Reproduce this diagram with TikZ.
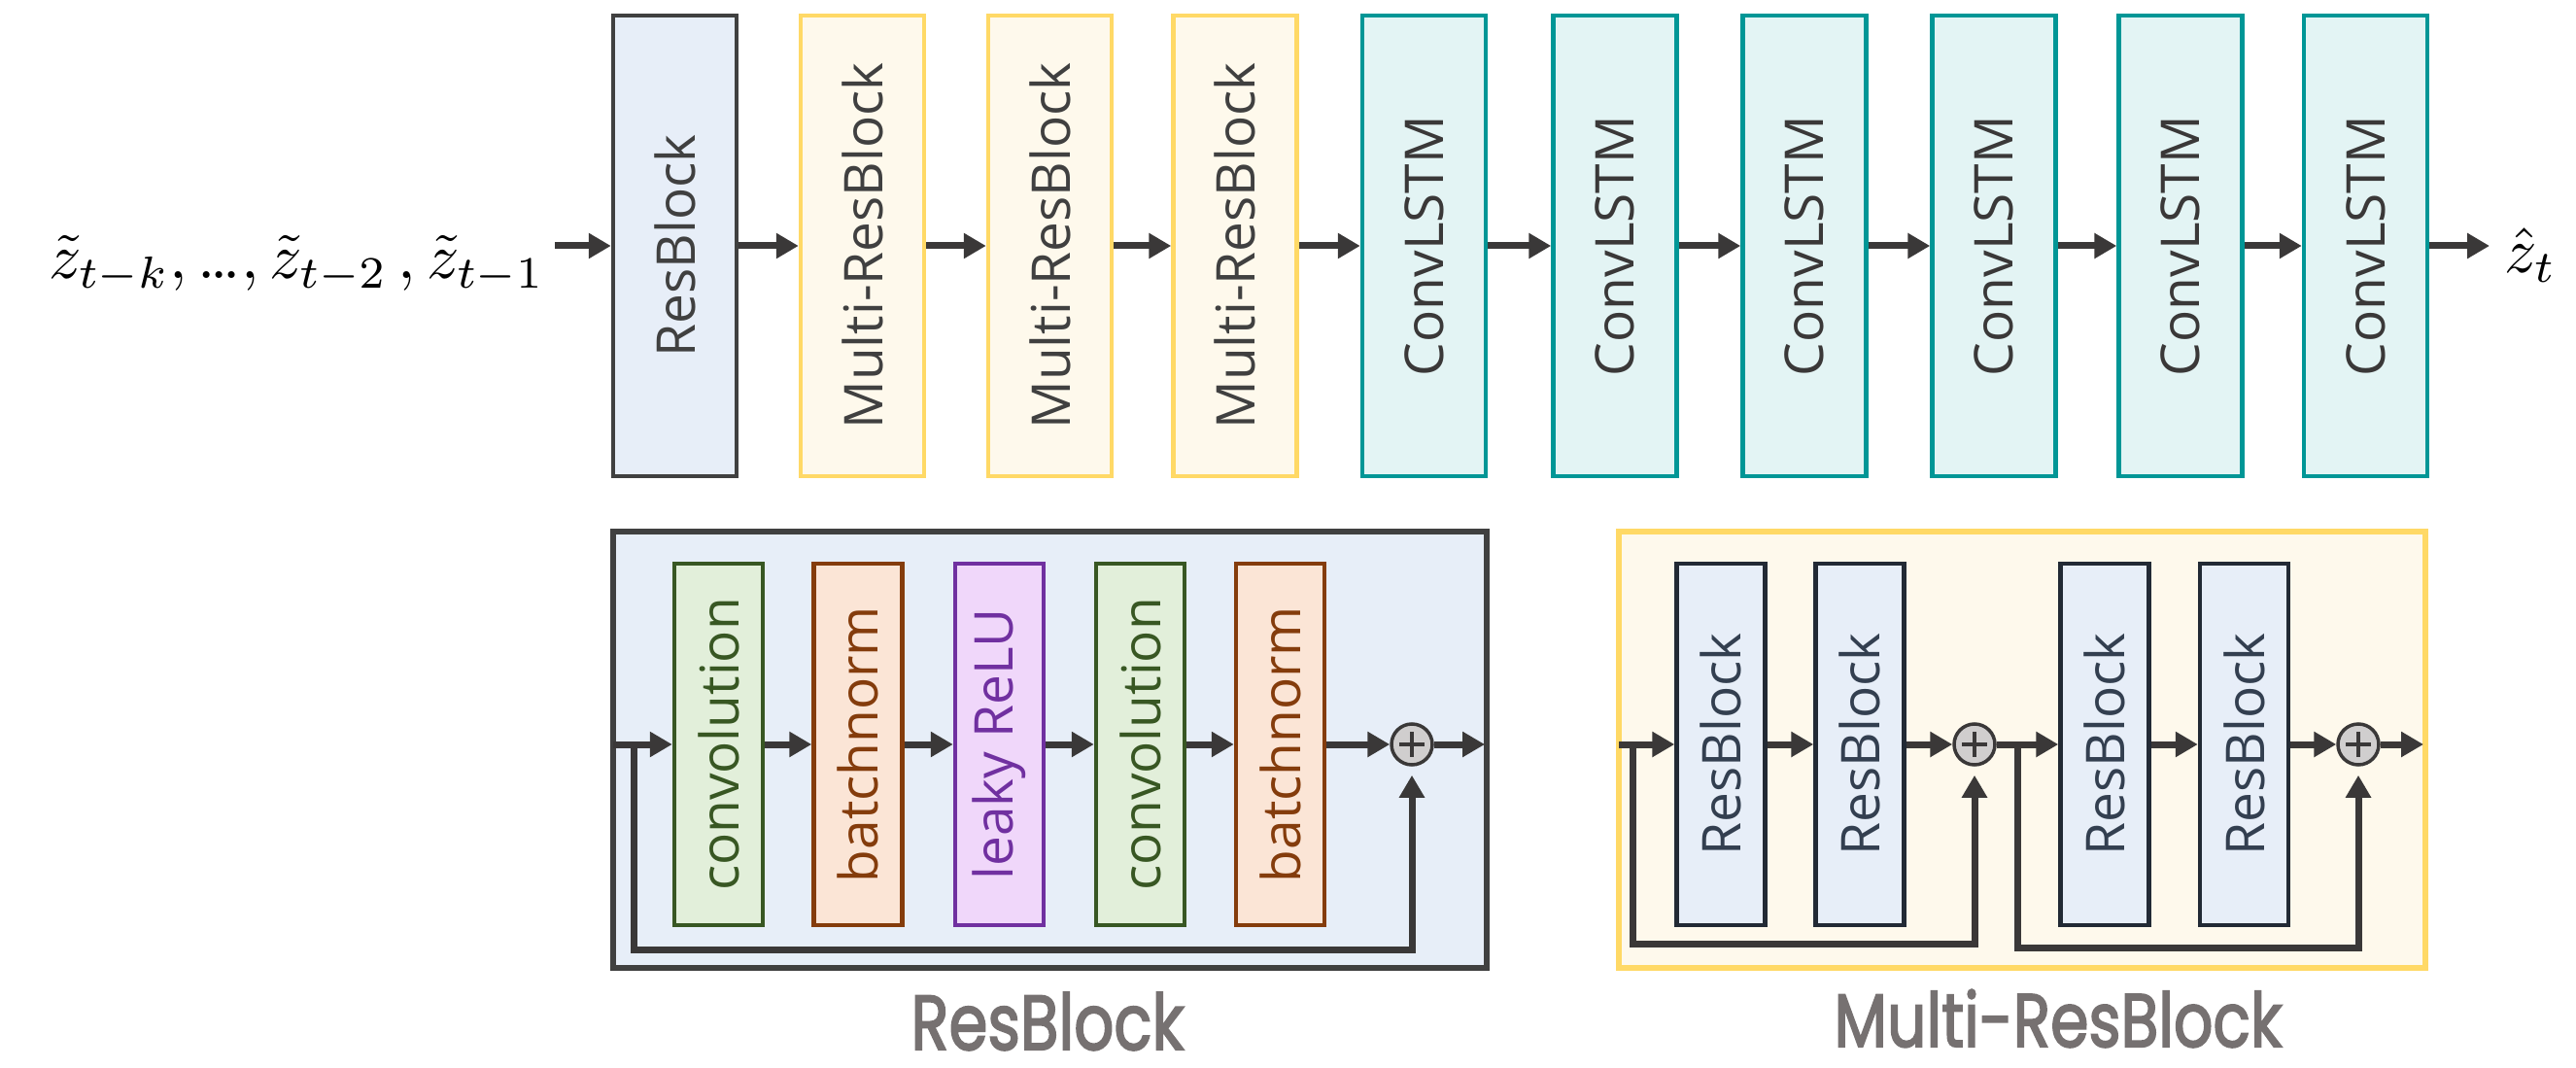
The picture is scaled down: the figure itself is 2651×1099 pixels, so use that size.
\documentclass[tikz,border=0pt]{standalone}
\usepackage{fontspec}
\usepackage{graphicx}
\newfontfamily\boxfont{Open Sans}
\newfontfamily\labfont{Poppins}[FakeBold=2.5]
\usetikzlibrary{arrows.meta,calc}
\definecolor{dk}{HTML}{3A3838}
\definecolor{rbdraw}{HTML}{404040}
\definecolor{rbfill}{HTML}{E7EEF8}
\definecolor{mrbdraw}{HTML}{FFD966}
\definecolor{mrbfill}{HTML}{FEF9EC}
\definecolor{lstmdraw}{HTML}{009696}
\definecolor{lstmfill}{HTML}{E3F4F4}
\definecolor{convdraw}{HTML}{385723}
\definecolor{convfill}{HTML}{E2EFDA}
\definecolor{bndraw}{HTML}{843C0C}
\definecolor{bnfill}{HTML}{FBE5D6}
\definecolor{lrdraw}{HTML}{7030A0}
\definecolor{lrfill}{HTML}{F0D7FA}
\definecolor{irbdraw}{HTML}{222A35}
\definecolor{irbtext}{HTML}{333F50}
\definecolor{labgray}{HTML}{767171}
\definecolor{circfill}{HTML}{D0CECE}
\newcommand\vtext[1]{\rotatebox{90}{#1}}
\begin{document}
\begin{tikzpicture}[x=1pt,y=-1pt,
  blk/.style={draw, rectangle, inner sep=0pt, font=\boxfont\fontsize{55}{60}\selectfont},
  topbox/.style={blk, line width=4.5pt, minimum width=127pt, minimum height=474pt},
  rbtop/.style={topbox, draw=rbdraw, fill=rbfill, text=rbdraw},
  mrbtop/.style={topbox, draw=mrbdraw, fill=mrbfill, text=rbdraw},
  lstm/.style={topbox, draw=lstmdraw, fill=lstmfill, text=dk},
  inbox/.style={blk, line width=4.5pt, minimum width=91pt, minimum height=372pt},
  convb/.style={inbox, draw=convdraw, fill=convfill, text=convdraw},
  bnb/.style={inbox, draw=bndraw, fill=bnfill, text=bndraw},
  lrb/.style={inbox, draw=lrdraw, fill=lrfill, text=lrdraw},
  irb/.style={inbox, draw=irbdraw, fill=rbfill, text=irbtext},
  panel/.style={draw, rectangle, line width=6pt, minimum height=449pt},
  arr/.style={draw=dk, line width=7pt, -{Triangle[length=23pt,width=25pt]}},
  skipline/.style={arr, shorten >=9pt},
  sumc/.style={circle, draw=dk, line width=3.5pt, fill=circfill, minimum size=42pt, inner sep=0pt,
    path picture={
      \draw[dk, line width=4.5pt] ($(path picture bounding box.center)+(-13,0)$) -- ++(26,0);
      \draw[dk, line width=4.5pt] ($(path picture bounding box.center)+(0,-13)$) -- ++(0,26);
    }},
  lab/.style={inner sep=0pt, text=labgray}
]
\useasboundingbox (0,0) rectangle (2651,1099);

% ---------- top row ----------
\node[anchor=base east, inner sep=0pt] (zin) at (561,287)
  {\scalebox{6.6}{$\tilde z_{t-k},\mbox{\normalfont …},\tilde z_{t-2}\,,\tilde z_{t-1}$}};
\node[rbtop]  (rb)  at (694.5,253) {\vtext{ResBlock}};
\node[mrbtop] (m1)  at (887.5,253) {\vtext{Multi-ResBlock}};
\node[mrbtop] (m2)  at (1080.5,253) {\vtext{Multi-ResBlock}};
\node[mrbtop] (m3)  at (1271,253) {\vtext{Multi-ResBlock}};
\node[lstm] (c1) at (1465.5,253) {\vtext{ConvLSTM}};
\node[lstm] (c2) at (1662,253) {\vtext{ConvLSTM}};
\node[lstm] (c3) at (1857,253) {\vtext{ConvLSTM}};
\node[lstm] (c4) at (2052,253) {\vtext{ConvLSTM}};
\node[lstm] (c5) at (2244,253) {\vtext{ConvLSTM}};
\node[lstm] (c6) at (2434.5,253) {\vtext{ConvLSTM}};
\node[anchor=base west, inner sep=0pt] (zout) at (2577,281)
  {\scalebox{6.6}{$\hat z_t$}};

\draw[arr, shorten <=10pt] (rb.west -| zin.east) -- (rb.west);
\draw[arr] (rb.east) -- (m1.west);
\draw[arr] (m1.east) -- (m2.west);
\draw[arr] (m2.east) -- (m3.west);
\draw[arr] (m3.east) -- (c1.west);
\draw[arr] (c1.east) -- (c2.west);
\draw[arr] (c2.east) -- (c3.west);
\draw[arr] (c3.east) -- (c4.west);
\draw[arr] (c4.east) -- (c5.west);
\draw[arr] (c5.east) -- (c6.west);
\draw[arr, shorten >=15pt] (c6.east) -- (c6.east -| zout.west);

% ---------- ResBlock panel ----------
\node[panel, draw=rbdraw, fill=rbfill, minimum width=899pt] (rbp) at (1080.5,771.5) {};
\node[convb] (cv1) at (739.5,766) {\vtext{convolution}};
\node[bnb]   (bn1) at (883,766)   {\vtext{batchnorm}};
\node[lrb]   (lr)  at (1028.5,766) {\vtext{leaky ReLU}};
\node[convb] (cv2) at (1173.5,766) {\vtext{convolution}};
\node[bnb]   (bn2) at (1317.5,766) {\vtext{batchnorm}};
\node[sumc]  (s1)  at (1453,766) {};
\coordinate (rin)  at (631,766);
\coordinate (rbr)  at (652,766);
\coordinate (rout) at (1528,766);

\draw[arr] (rin) -- (cv1.west);
\draw[arr] (cv1.east) -- (bn1.west);
\draw[arr] (bn1.east) -- (lr.west);
\draw[arr] (lr.east) -- (cv2.west);
\draw[arr] (cv2.east) -- (bn2.west);
\draw[arr] (bn2.east) -- (s1.west);
\draw[arr] (s1.east) -- (rout);
\draw[skipline] (rbr) |- (s1.south |- 0,977) -- (s1.south);

\node[lab] (lab1) at (1078,1051) {\resizebox{281pt}{59pt}{\labfont ResBlock}};

% ---------- Multi-ResBlock panel ----------
\node[panel, draw=mrbdraw, fill=mrbfill, minimum width=830pt] (mrbp) at (2081,771.5) {};
\node[irb] (r1) at (1771,766) {\vtext{ResBlock}};
\node[irb] (r2) at (1914,766) {\vtext{ResBlock}};
\node[sumc] (s2) at (2032,766) {};
\node[irb] (r3) at (2166,766) {\vtext{ResBlock}};
\node[irb] (r4) at (2309.5,766) {\vtext{ResBlock}};
\node[sumc] (s3) at (2427,766) {};
\coordinate (min)  at (1666,766);
\coordinate (mbr1) at (1680,766);
\coordinate (mbr2) at (2076,766);
\coordinate (mout) at (2494,766);

\draw[arr] (min) -- (r1.west);
\draw[arr] (r1.east) -- (r2.west);
\draw[arr] (r2.east) -- (s2.west);
\draw[arr] (s2.east) -- (r3.west);
\draw[arr] (r3.east) -- (r4.west);
\draw[arr] (r4.east) -- (s3.west);
\draw[arr] (s3.east) -- (mout);
\draw[skipline] (mbr1) |- (s2.south |- 0,971) -- (s2.south);
\draw[skipline] (mbr2) |- (s3.south |- 0,975) -- (s3.south);

\node[lab] (lab2) at (2118,1048) {\resizebox{461pt}{59pt}{\labfont Multi-ResBlock}};
\end{tikzpicture}
\end{document}
